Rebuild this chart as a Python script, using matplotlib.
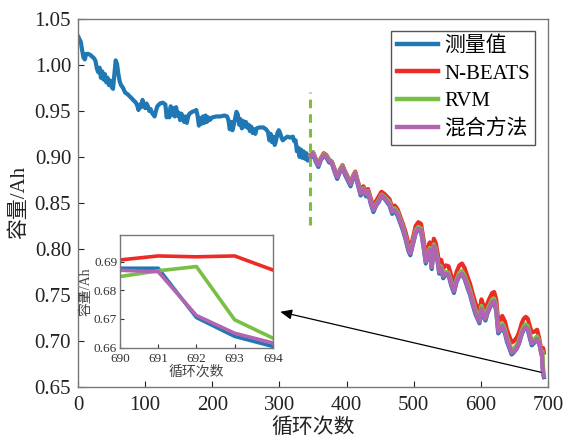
import matplotlib

matplotlib.use("Agg")
import matplotlib.pyplot as plt

# measured capacity before the prediction start point
meas_cycle = [
    0, 2, 4, 6, 8, 10, 12, 15, 18, 21, 24, 26, 28, 30, 32, 34, 36, 38, 40, 42,
    44, 46, 48, 50, 52, 54, 56, 58, 60, 62, 64, 67, 70, 74, 78, 82, 86, 88, 90, 92,
    94, 96, 98, 100, 102, 104, 106, 108, 110, 112, 114, 116, 118, 122, 126, 130, 132, 134, 136, 138,
    140, 142, 144, 146, 148, 150, 152, 154, 156, 158, 160, 162, 164, 166, 170, 174, 176, 178, 180, 182,
    184, 186, 188, 190, 192, 194, 196, 200, 206, 212, 218, 222, 224, 226, 228, 230, 232, 234, 236, 238,
    240, 242, 244, 246, 248, 250, 252, 254, 256, 258, 260, 262, 264, 266, 270, 276, 280, 283, 285, 287,
    289, 291, 293, 295, 297, 299, 301, 303, 305, 308, 312, 316, 320, 322, 324, 326, 328, 330, 332, 334,
    336, 338, 340, 342, 344,
]
meas_cap = [
    1.031, 1.028, 1.025, 1.016, 1.008, 1.006, 1.012, 1.012, 1.011, 1.009, 1.007, 1.004, 0.996, 0.992, 0.997, 0.986, 0.993, 0.984, 0.990, 0.981,
    0.986, 0.978, 0.983, 0.976, 0.974, 0.990, 1.005, 1.001, 0.990, 0.982, 0.978, 0.975, 0.970, 0.968, 0.965, 0.962, 0.959, 0.956, 0.951, 0.957,
    0.954, 0.962, 0.957, 0.953, 0.958, 0.955, 0.950, 0.952, 0.948, 0.946, 0.944, 0.950, 0.955, 0.958, 0.959, 0.957, 0.943, 0.950, 0.943, 0.955,
    0.946, 0.953, 0.944, 0.954, 0.945, 0.948, 0.940, 0.947, 0.943, 0.938, 0.944, 0.937, 0.944, 0.947, 0.949, 0.950, 0.951, 0.945, 0.934, 0.942,
    0.936, 0.944, 0.937, 0.945, 0.938, 0.943, 0.940, 0.943, 0.944, 0.944, 0.945, 0.944, 0.940, 0.930, 0.938, 0.929, 0.935, 0.942, 0.949, 0.946,
    0.935, 0.941, 0.931, 0.939, 0.933, 0.938, 0.932, 0.935, 0.928, 0.933, 0.926, 0.930, 0.925, 0.931, 0.932, 0.932, 0.930, 0.927, 0.918, 0.925,
    0.916, 0.922, 0.913, 0.918, 0.926, 0.929, 0.926, 0.921, 0.918, 0.920, 0.922, 0.921, 0.922, 0.917, 0.918, 0.906, 0.910, 0.900, 0.908, 0.899,
    0.906, 0.898, 0.904, 0.896, 0.902,
]

# prediction window (cycle 346 onward)
pred_cycle = [
    346, 350, 354, 358, 362, 366, 370, 374, 378, 382, 386, 390, 394, 398, 402, 406, 410, 413, 417, 421,
    425, 429, 432, 436, 440, 444, 448, 452, 456, 460, 464, 468, 472, 476, 480, 484, 488, 492, 495, 499,
    503, 507, 511, 515, 518, 521, 524, 527, 530, 533, 536, 538, 541, 544, 548, 552, 556, 560, 564, 568,
    572, 576, 580, 584, 588, 592, 595, 598, 601, 604, 607, 610, 613, 617, 620, 623, 626, 629, 632, 636,
    639, 642, 646, 650, 654, 657, 661, 664, 667, 670, 673, 676, 680, 684, 687, 690, 691, 692, 693, 694,
]
meas_cap_late = [
    0.899, 0.903, 0.895, 0.889, 0.897, 0.901, 0.899, 0.894, 0.893, 0.884, 0.876, 0.883, 0.888, 0.880, 0.874, 0.868, 0.877, 0.881, 0.869, 0.858,
    0.864, 0.857, 0.861, 0.849, 0.840, 0.847, 0.851, 0.857, 0.855, 0.851, 0.847, 0.838, 0.841, 0.836, 0.828, 0.820, 0.810, 0.798, 0.793, 0.805,
    0.817, 0.821, 0.819, 0.800, 0.784, 0.791, 0.798, 0.778, 0.802, 0.797, 0.784, 0.773, 0.778, 0.768, 0.772, 0.771, 0.760, 0.752, 0.764, 0.770,
    0.772, 0.767, 0.758, 0.750, 0.739, 0.729, 0.724, 0.719, 0.734, 0.726, 0.722, 0.730, 0.735, 0.741, 0.742, 0.732, 0.708, 0.711, 0.715, 0.708,
    0.699, 0.693, 0.685, 0.688, 0.692, 0.697, 0.707, 0.712, 0.714, 0.712, 0.703, 0.695, 0.698, 0.701, 0.697, 0.6877, 0.6877, 0.6705, 0.6639, 0.6604,
]
nbeats_cap = [
    0.901, 0.905, 0.898, 0.892, 0.899, 0.904, 0.902, 0.897, 0.895, 0.887, 0.879, 0.886, 0.891, 0.884, 0.878, 0.872, 0.880, 0.884, 0.873, 0.863,
    0.868, 0.862, 0.865, 0.855, 0.846, 0.852, 0.857, 0.862, 0.860, 0.857, 0.854, 0.845, 0.847, 0.843, 0.835, 0.827, 0.818, 0.806, 0.801, 0.812,
    0.825, 0.829, 0.827, 0.809, 0.794, 0.800, 0.807, 0.788, 0.811, 0.806, 0.794, 0.784, 0.788, 0.779, 0.782, 0.781, 0.771, 0.763, 0.775, 0.782,
    0.784, 0.779, 0.770, 0.762, 0.751, 0.741, 0.736, 0.731, 0.745, 0.738, 0.734, 0.741, 0.746, 0.752, 0.753, 0.745, 0.721, 0.723, 0.727, 0.721,
    0.712, 0.706, 0.698, 0.700, 0.704, 0.709, 0.719, 0.724, 0.726, 0.724, 0.716, 0.709, 0.710, 0.712, 0.703, 0.6906, 0.692, 0.6917, 0.692, 0.6871,
]
rvm_cap = [
    0.902, 0.905, 0.898, 0.892, 0.899, 0.903, 0.901, 0.897, 0.895, 0.887, 0.879, 0.885, 0.890, 0.883, 0.877, 0.871, 0.879, 0.883, 0.872, 0.861,
    0.866, 0.860, 0.863, 0.852, 0.843, 0.849, 0.853, 0.859, 0.857, 0.854, 0.851, 0.842, 0.844, 0.840, 0.832, 0.824, 0.814, 0.801, 0.796, 0.808,
    0.820, 0.824, 0.822, 0.804, 0.788, 0.794, 0.801, 0.782, 0.805, 0.800, 0.788, 0.777, 0.781, 0.772, 0.775, 0.774, 0.764, 0.756, 0.767, 0.774,
    0.776, 0.771, 0.763, 0.755, 0.744, 0.734, 0.729, 0.724, 0.738, 0.731, 0.727, 0.734, 0.739, 0.745, 0.746, 0.737, 0.713, 0.715, 0.719, 0.713,
    0.704, 0.698, 0.690, 0.692, 0.696, 0.701, 0.711, 0.716, 0.718, 0.716, 0.708, 0.700, 0.702, 0.705, 0.700, 0.6848, 0.6868, 0.6883, 0.6697, 0.6633,
]
hybrid_cap = [
    0.901, 0.904, 0.897, 0.891, 0.898, 0.902, 0.900, 0.896, 0.894, 0.886, 0.878, 0.884, 0.889, 0.882, 0.876, 0.870, 0.878, 0.882, 0.871, 0.860,
    0.865, 0.859, 0.862, 0.851, 0.842, 0.848, 0.852, 0.858, 0.856, 0.852, 0.849, 0.840, 0.842, 0.838, 0.830, 0.822, 0.812, 0.800, 0.795, 0.806,
    0.818, 0.822, 0.820, 0.802, 0.786, 0.792, 0.799, 0.780, 0.803, 0.798, 0.786, 0.775, 0.779, 0.770, 0.773, 0.772, 0.762, 0.754, 0.765, 0.771,
    0.773, 0.768, 0.760, 0.752, 0.741, 0.731, 0.726, 0.721, 0.735, 0.728, 0.724, 0.731, 0.736, 0.742, 0.743, 0.734, 0.710, 0.712, 0.716, 0.710,
    0.701, 0.695, 0.687, 0.689, 0.693, 0.698, 0.708, 0.713, 0.715, 0.713, 0.705, 0.697, 0.699, 0.702, 0.698, 0.687, 0.6865, 0.6712, 0.665, 0.6616,
]

split_cycle = 346
split_span = [0.826, 0.971]
labels = ["测量值", "N-BEATS", "RVM", "混合方法"]
colors = ["#1f77b4", "#ee2a24", "#77c043", "#b264b0"]

plt.rcParams["font.family"] = ["Liberation Serif", "Noto Sans CJK SC"]
plt.rcParams["axes.unicode_minus"] = False


def main() -> None:
    fig = plt.figure(figsize=(5.66, 4.41), dpi=100)
    ax = fig.add_axes([0.138, 0.123, 0.830, 0.834])

    all_cycle = meas_cycle + pred_cycle
    all_meas = meas_cap + meas_cap_late
    series = [
        (all_cycle, all_meas),
        (pred_cycle, nbeats_cap),
        (pred_cycle, rvm_cap),
        (pred_cycle, hybrid_cap),
    ]
    for (xs, ys), lab, col in zip(series, labels, colors):
        ax.plot(xs, ys, color=col, linewidth=3.0, label=lab, solid_joinstyle="round")

    ax.vlines(split_cycle, split_span[0], split_span[1], colors=colors[2],
              linestyles=(0, (2.8, 2.0)), linewidth=2.2)

    ax.set_xlim(0, 700)
    ax.set_ylim(0.65, 1.05)
    ax.set_xticks(range(0, 701, 100))
    ax.set_yticks([0.65, 0.70, 0.75, 0.80, 0.85, 0.90, 0.95, 1.00, 1.05])
    ax.yaxis.set_major_formatter(matplotlib.ticker.FormatStrFormatter("%.2f"))
    ax.tick_params(direction="in", length=4, labelsize=15, colors="#222222", pad=5)
    ax.tick_params(axis="x", pad=7)
    for sp in ax.spines.values():
        sp.set_color("#777777")
        sp.set_linewidth(1.0)
    ax.set_xlabel("循环次数", fontsize=15, color="#222222", labelpad=2)
    ax.set_ylabel("容量/Ah", fontsize=15, color="#222222", labelpad=4)

    leg = ax.legend(loc="upper right", fontsize=15, handlelength=2.0, handletextpad=0.3,
                    labelspacing=0.38, borderpad=0.25, borderaxespad=0.6, fancybox=False,
                    edgecolor="#555555", framealpha=1.0)
    leg.get_frame().set_linewidth(1.0)
    for line in leg.get_lines():
        line.set_linewidth(3.2)

    # zoomed view of the last few cycles
    ins = fig.add_axes([0.212, 0.210, 0.270, 0.257])
    for (xs, ys), col in zip(series, colors):
        ins.plot(xs, ys, color=col, linewidth=2.6)
    ins.set_xlim(690, 694)
    ins.set_ylim(0.6597, 0.6993)
    ins.set_xticks([690, 691, 692, 693, 694])
    ins.set_yticks([0.66, 0.67, 0.68, 0.69])
    ins.tick_params(direction="in", length=3, labelsize=9.5, colors="#333333", pad=2)
    ins.tick_params(axis="x", pad=3.5)
    for sp in ins.spines.values():
        sp.set_color("#777777")
        sp.set_linewidth(1.0)
    ins.set_xlabel("循环次数", fontsize=10, color="#444444", labelpad=0)
    ins.set_ylabel("容量/Ah", fontsize=10, color="#444444", labelpad=1)

    ax.annotate("", xy=(1.048, 0.323), xycoords=ins.transAxes,
                xytext=(pred_cycle[-5], meas_cap_late[-5] - 0.022), textcoords="data",
                arrowprops=dict(arrowstyle="-|>,head_length=0.7,head_width=0.3",
                                color="black", lw=0.9, shrinkA=0, shrinkB=0))

    fig.savefig("out.png", dpi=100)
    plt.close(fig)


if __name__ == "__main__":
    main()
